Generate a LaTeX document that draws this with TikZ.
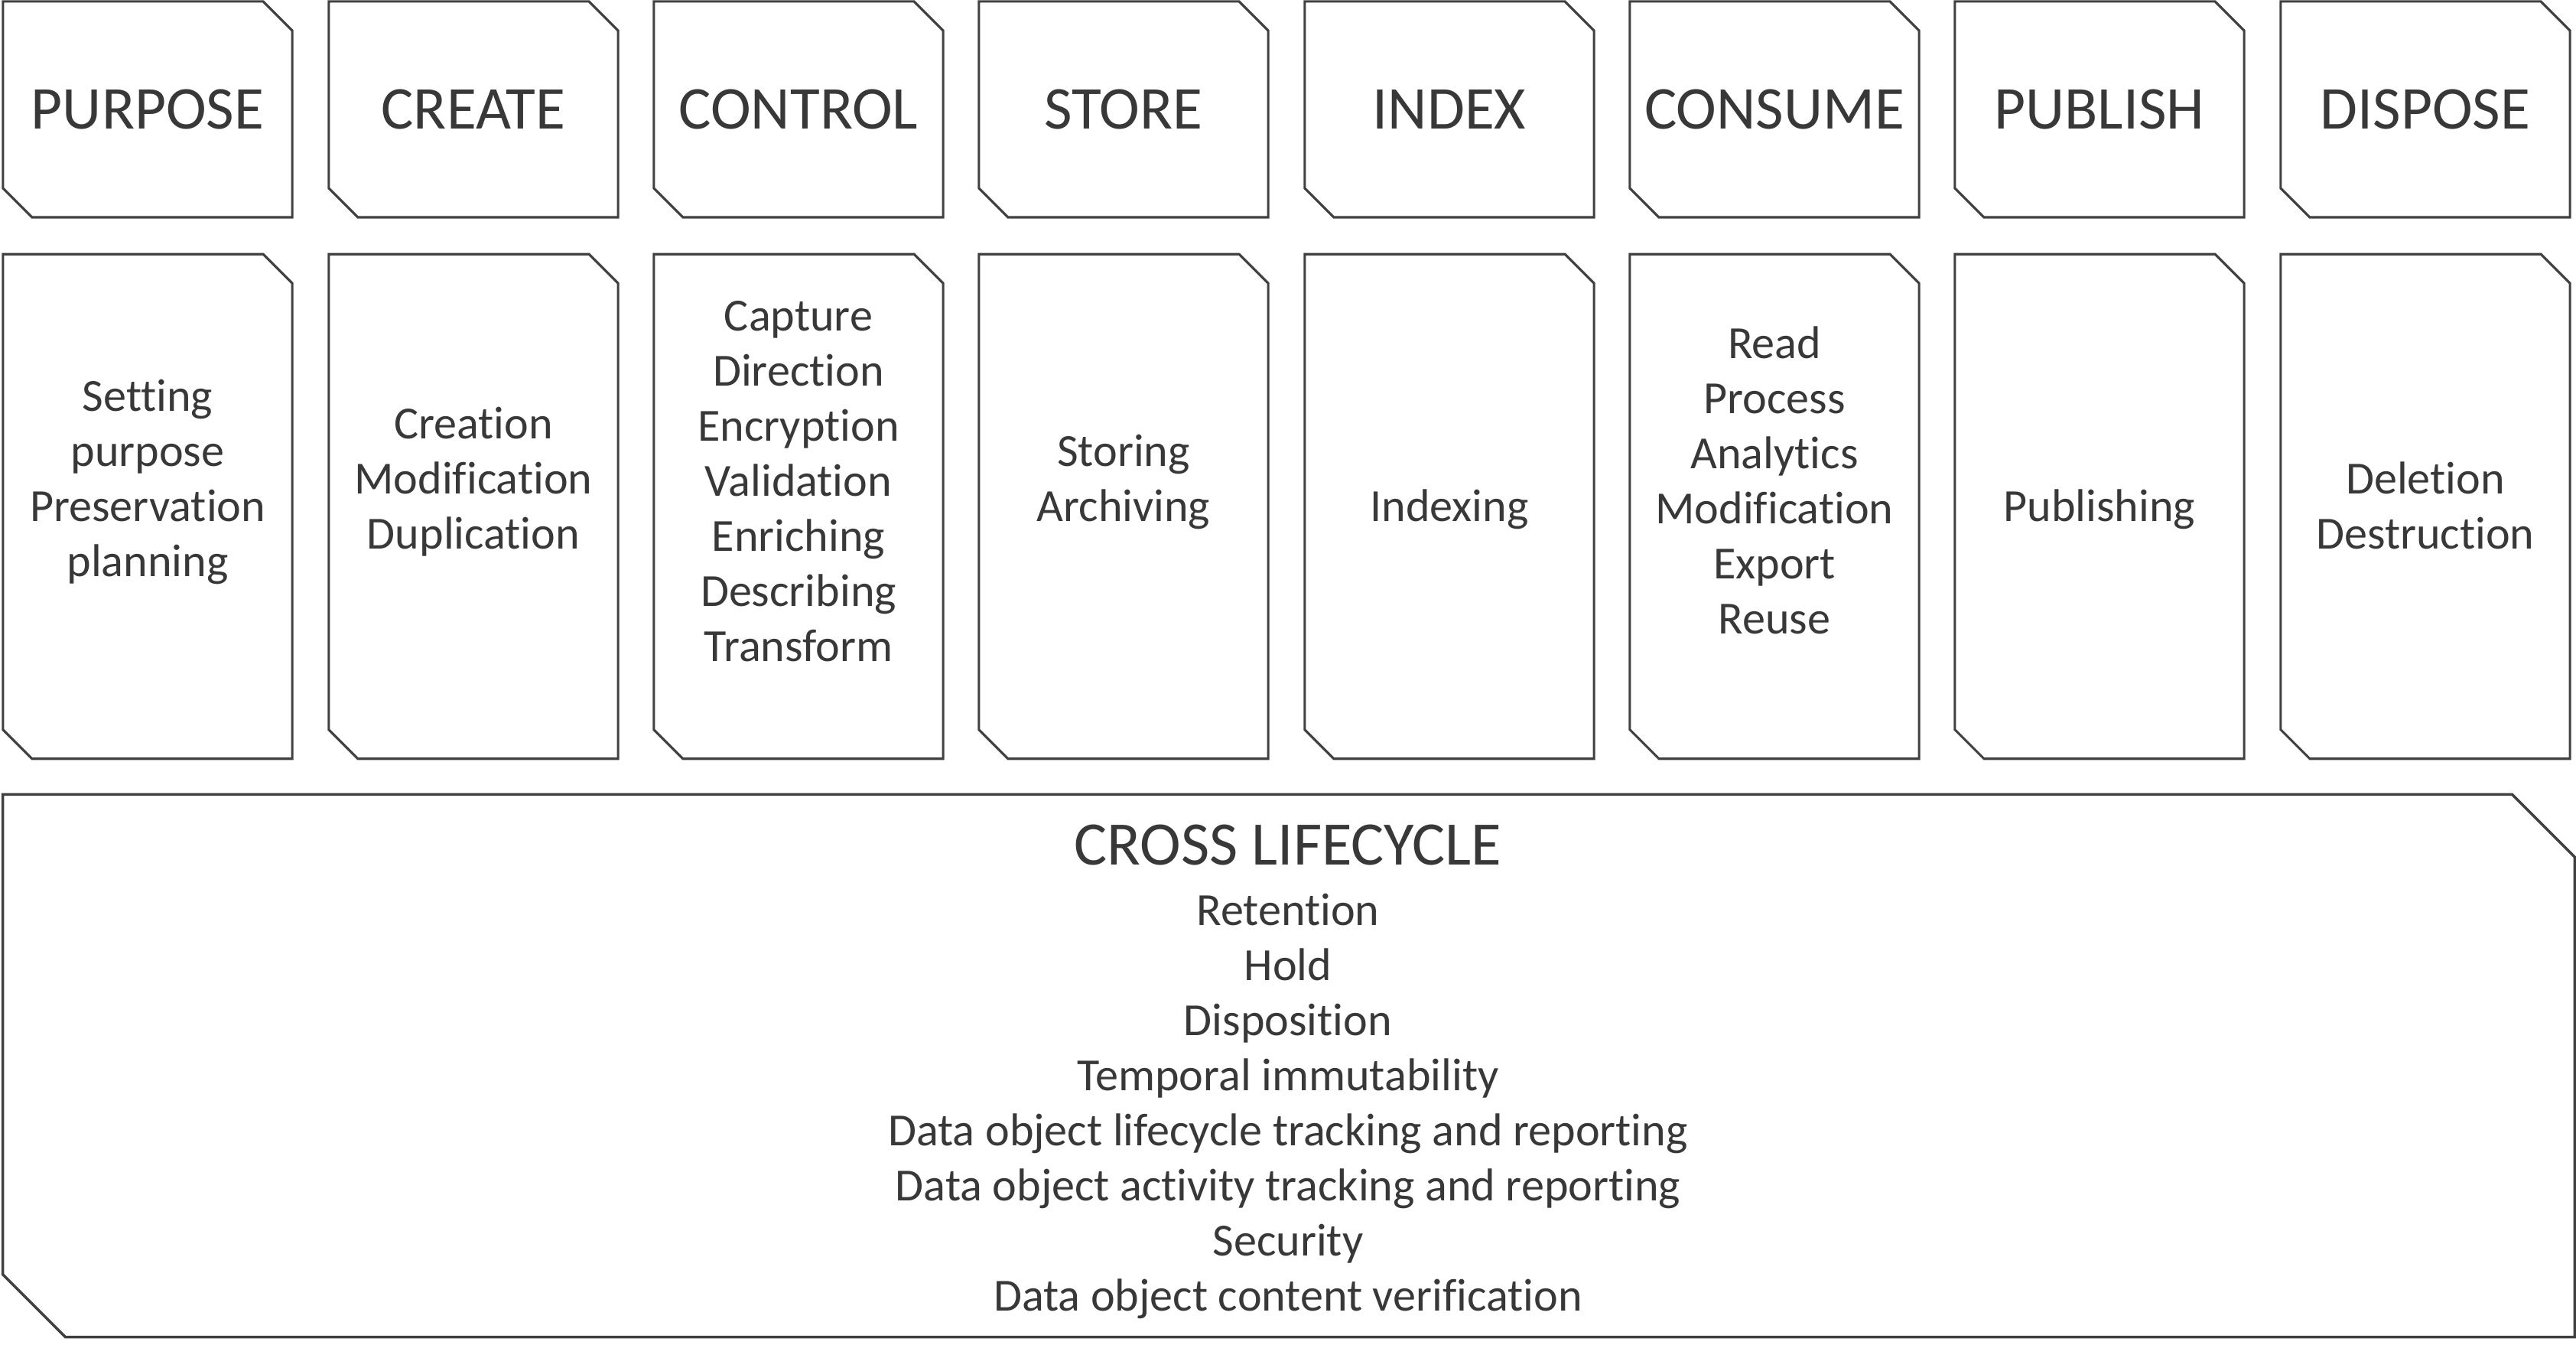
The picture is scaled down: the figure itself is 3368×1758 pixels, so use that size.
\documentclass[tikz,border=0pt]{standalone}
\usepackage{fontspec}
\setmainfont{Carlito}[Ligatures=NoCommon]
\usepackage{xcolor}
\usetikzlibrary{positioning, calc}

\definecolor{framegray}{HTML}{404040}
\definecolor{textgray}{HTML}{383838}

% outline with the top right and bottom left corners snipped off
\newcommand{\snipframe}[3][0.9pt]{%
  \draw[framegray, line width=#1, line join=miter]
    (#2.north west) -- ([xshift=-#3]#2.north east) -- ([yshift=-#3]#2.north east)
    -- (#2.south east) -- ([xshift=#3]#2.south west) -- ([yshift=#3]#2.south west) -- cycle;}

\begin{document}
\begin{tikzpicture}[x=0.01cm, y=-0.01cm,
  stage/.style={rectangle, minimum width=3.78cm, minimum height=2.82cm, inner sep=0pt, outer sep=0pt, text=textgray, font=\fontsize{22.6}{27}\selectfont},
  taskbox/.style={rectangle, minimum width=3.78cm, minimum height=6.59cm, inner sep=0pt, outer sep=0pt},
  tasks/.style={align=center, inner sep=0pt, text=textgray, font=\fontsize{17.1}{20.5}\selectfont},
  crossbox/.style={rectangle, minimum width=33.61cm, minimum height=7.09cm, inner sep=0pt, outer sep=0pt},
  crosstitle/.style={inner sep=0pt, text=textgray, font=\fontsize{23}{27}\selectfont}]
\useasboundingbox (0,0) rectangle (3368,1758);

% Lifecycle stages
\node[stage] (purpose) at (193,143) {PURPOSE};
\node[stage] (create) at (619,143) {CREATE};
\node[stage] (control) at (1044,143) {CONTROL};
\node[stage] (store) at (1469,143) {STORE};
\node[stage] (index) at (1895,143) {INDEX};
\node[stage] (consume) at (2320,143) {CONSUME};
\node[stage] (publish) at (2745,143) {PUBLISH};
\node[stage] (dispose) at (3171,143) {DISPOSE};
\snipframe{purpose}{0.38cm}
\snipframe{create}{0.38cm}
\snipframe{control}{0.38cm}
\snipframe{store}{0.38cm}
\snipframe{index}{0.38cm}
\snipframe{consume}{0.38cm}
\snipframe{publish}{0.38cm}
\snipframe{dispose}{0.38cm}

% Activities of each stage
\node[taskbox] (purposeTasks) at (193,662) {};
\node[taskbox] (createTasks) at (619,662) {};
\node[taskbox] (controlTasks) at (1044,662) {};
\node[taskbox] (storeTasks) at (1469,662) {};
\node[taskbox] (indexTasks) at (1895,662) {};
\node[taskbox] (consumeTasks) at (2320,662) {};
\node[taskbox] (publishTasks) at (2745,662) {};
\node[taskbox] (disposeTasks) at (3171,662) {};
\snipframe{purposeTasks}{0.38cm}
\snipframe{createTasks}{0.38cm}
\snipframe{controlTasks}{0.38cm}
\snipframe{storeTasks}{0.38cm}
\snipframe{indexTasks}{0.38cm}
\snipframe{consumeTasks}{0.38cm}
\snipframe{publishTasks}{0.38cm}
\snipframe{disposeTasks}{0.38cm}

\node[tasks] (purposeText) at (193,630) {Setting\\purpose\\Preservation\\planning};
\node[tasks] (createText) at (619,630) {Creation\\Modification\\Duplication};
\node[tasks] (controlText) at (1044,629) {Capture\\Direction\\Encryption\\Validation\\Enriching\\Describing\\Transform};
\node[tasks] (storeText) at (1469,630) {Storing\\Archiving};
\node[tasks] (indexText) at (1895,666) {Indexing};
\node[tasks] (consumeText) at (2320,628) {Read\\Process\\Analytics\\Modification\\Export\\Reuse};
\node[tasks] (publishText) at (2745,666) {Publishing};
\node[tasks] (disposeText) at (3171,661) {Deletion\\Destruction};

% Cross lifecycle
\node[crossbox] (cross) at (1685,1393) {};
\snipframe[1pt]{cross}{0.82cm}
\node[crosstitle] (crossTitle) at (1684,1105) {CROSS LIFECYCLE};
\node[tasks] (crossText) at (1684,1446) {Retention\\Hold\\Disposition\\Temporal immutability\\Data object lifecycle tracking and reporting\\Data object activity tracking and reporting\\Security\\Data object content verification};
\end{tikzpicture}
\end{document}
